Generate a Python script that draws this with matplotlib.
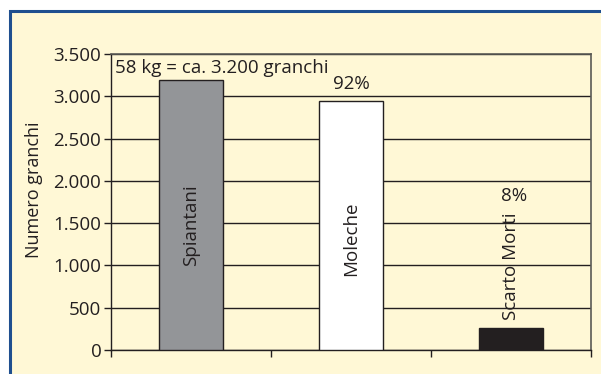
import matplotlib.pyplot as plt
from matplotlib.patches import Rectangle

# data
categories = ['Spiantani', 'Moleche', 'Scarto Morti']
values = [3190, 2944, 256]
percent_labels = ['', '92%', '8%']
bar_colors = ['#939598', '#ffffff', '#231f20']
y_ticks = [0, 500, 1000, 1500, 2000, 2500, 3000, 3500]
y_tick_labels = ['0', '500', '1.000', '1.500', '2.000', '2.500', '3.000', '3.500']

plt.rcParams['font.family'] = ['Open Sans', 'DejaVu Sans']
text_color = '#231f20'
cream = '#fff8d6'
fs = 13.5

fig = plt.figure(figsize=(6.01, 3.74), dpi=100)
fig.patch.set_facecolor('white')

# blue framed box behind the chart
frame = Rectangle((9.5 / 601, -0.05), 1.0, 1 - 10.5 / 374 + 0.05,
                  transform=fig.transFigure, facecolor=cream,
                  edgecolor='#1f4f8f', linewidth=2.2, zorder=-5)
fig.patches.append(frame)

ax = fig.add_axes([111 / 601, 1 - 350 / 374, 480 / 601, 296 / 374])
ax.set_facecolor(cream)

x = list(range(len(categories)))
ax.bar(x, values, width=0.4, color=bar_colors, edgecolor=text_color,
       linewidth=1.0, zorder=3)

ax.set_xlim(-0.5, 2.5)
ax.set_ylim(0, 3500)
ax.set_yticks(y_ticks)
ax.set_yticklabels(y_tick_labels)
ax.set_xticks([-0.5, 0.5, 1.5, 2.5])
ax.set_xticklabels([])
ax.tick_params(axis='y', length=5, width=1, color=text_color,
               labelsize=fs, labelcolor=text_color, pad=2)
ax.tick_params(axis='x', length=5, width=1, color=text_color)
ax.yaxis.grid(True, color=text_color, linewidth=1.0, zorder=1)
ax.set_axisbelow(True)

for side in ['top', 'right']:
    ax.spines[side].set_color('#5a5a55')
    ax.spines[side].set_linewidth(1.2)
for side in ['left', 'bottom']:
    ax.spines[side].set_color(text_color)
    ax.spines[side].set_linewidth(1.0)

ax.set_ylabel('Numero granchi', fontsize=13, color=text_color)
ax.yaxis.set_label_coords(-0.142, 0.54)

# category names written up the bars
name_y = [993, 875, 355]
for xi, name, ny in zip(x, categories, name_y):
    ax.text(xi, ny, name, rotation=90, ha='center', va='bottom',
            fontsize=fs, color=text_color, zorder=4)

# percentage labels
pct_x = [0, 1, 2.02]
pct_y = [0, 3086, 1762]
for px, lab, py in zip(pct_x, percent_labels, pct_y):
    if lab:
        ax.text(px, py, lab, ha='center', va='baseline', fontsize=fs,
                color=text_color, zorder=4)

ax.text(-0.475, 3275, '58 kg = ca. 3.200 granchi', ha='left',
        va='baseline', fontsize=fs, color=text_color, zorder=4)

fig.savefig('out.png', dpi=100)
